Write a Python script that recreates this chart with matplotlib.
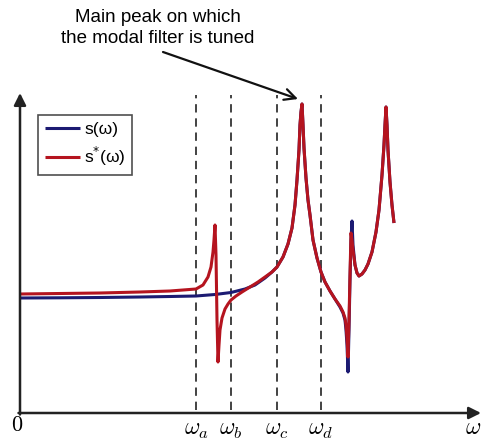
import matplotlib
matplotlib.use("Agg")
import matplotlib.pyplot as plt
from matplotlib.font_manager import FontProperties

plt.rcParams['font.family'] = ['Liberation Sans', 'DejaVu Sans']
plt.rcParams['mathtext.fontset'] = 'cm'

# frequency (x) and amplitude (y), arbitrary units
w_s = [0, 40, 80, 120, 150, 176, 195, 211, 225, 235, 245, 252, 257, 263, 268, 272, 275, 277,
       279, 280, 281, 282, 283, 284, 286, 288, 290, 293, 297, 301, 305, 310, 315, 320, 323,
       325, 326, 327, 328, 329, 330, 331, 332, 333, 335, 337, 339, 342, 345, 348, 352, 356,
       359, 362, 364, 365, 366, 367, 368, 370, 372, 374]
s = [115, 115.2, 115.5, 116, 116.5, 117, 118.5, 120.5, 124, 128, 135, 141, 146, 156, 169,
     185, 208, 233, 263, 288, 301, 309, 288, 265, 235, 213, 198, 173, 155, 141, 131, 122,
     114, 106, 100, 93, 83, 68, 41, 83, 133, 173, 192, 168, 148, 140, 137, 139, 143, 149,
     161, 181, 203, 238, 268, 288, 306, 288, 263, 231, 208, 190]

w_s2 = [0, 40, 80, 120, 150, 176, 183, 188, 191, 193, 194, 195, 196, 197, 198, 199, 200,
        202, 205, 208, 211, 216, 222, 230, 238, 245, 252, 257, 263, 268, 272, 275, 277, 279,
        280, 281, 282, 283, 284, 286, 288, 290, 293, 297, 301, 305, 310, 315, 320, 323, 325,
        326, 327, 328, 329, 330, 331, 332, 333, 335, 337, 339, 342, 345, 348, 352, 356, 359,
        362, 364, 365, 366, 367, 368, 370, 372, 374]
s2 = [119, 119.5, 120, 121, 122, 124, 128, 136, 146, 161, 173, 188, 158, 93, 51, 68, 83,
      95, 104, 109, 113, 117, 121, 126, 131, 136, 141, 146, 156, 169, 185, 208, 233, 263,
      288, 301, 309, 288, 265, 235, 213, 198, 173, 155, 141, 131, 122, 114, 107, 101, 95,
      88, 75, 56, 93, 138, 180, 173, 163, 148, 140, 137, 139, 143, 149, 161, 181, 203, 238,
      268, 288, 306, 288, 263, 231, 208, 190]

markers = [176, 211, 257, 301]
marker_labels = [r'$\omega_a$', r'$\omega_b$', r'$\omega_c$', r'$\omega_d$']

fig = plt.figure(figsize=(4.82, 4.40), dpi=100)
ax = fig.add_axes([0, 0, 1, 1])
ax.set_xlim(-20, 462)
ax.set_ylim(-27, 413)
ax.axis('off')

# dashed frequency markers
for m, lab in zip(markers, marker_labels):
    ax.plot([m, m], [3, 318], color='#222222', lw=1.2, linestyle=(0, (5, 3.5)))
    ax.text(m, -17, lab, fontsize=17, ha='center', va='center')

ax.plot(w_s, s, color='#1c1a72', lw=2.2, label='s(ω)', solid_capstyle='butt')
ax.plot(w_s2, s2, color='#b5141f', lw=2.2, label=r's$^{*}$(ω)', solid_capstyle='butt')

# axes as arrows
ax.annotate('', xy=(0, 320), xytext=(0, -1.5),
            arrowprops=dict(arrowstyle='-|>', color='#222222', lw=1.8,
                            mutation_scale=18, shrinkA=0, shrinkB=0))
ax.annotate('', xy=(461, 0), xytext=(-1.5, 0),
            arrowprops=dict(arrowstyle='-|>', color='#222222', lw=1.8,
                            mutation_scale=18, shrinkA=0, shrinkB=0))
ax.text(-3, -12, r'$0$', fontsize=16, ha='center', va='center')
ax.text(445, -15, r'$\omega$', fontsize=17, ha='left', va='center')

leg_font = FontProperties(family='Liberation Sans', size=12.5, math_fontfamily='dejavusans')
leg = ax.legend(loc='upper left', bbox_to_anchor=(38 / 482, 1 - 115 / 440),
                frameon=True, fancybox=False, prop=leg_font, handlelength=2.0,
                borderpad=0.4, labelspacing=0.45, handletextpad=0.25, borderaxespad=0)
leg.get_frame().set_edgecolor('#222222')
leg.get_frame().set_linewidth(1.2)

ax.text(138, 385, 'Main peak on which\nthe modal filter is tuned', fontsize=13.5,
        ha='center', va='center', linespacing=1.3)
ax.annotate('', xy=(278, 314), xytext=(143, 361),
            arrowprops=dict(arrowstyle='->', color='#111111', lw=1.6,
                            mutation_scale=20, shrinkA=0, shrinkB=0))

fig.savefig('out.png', dpi=100)
